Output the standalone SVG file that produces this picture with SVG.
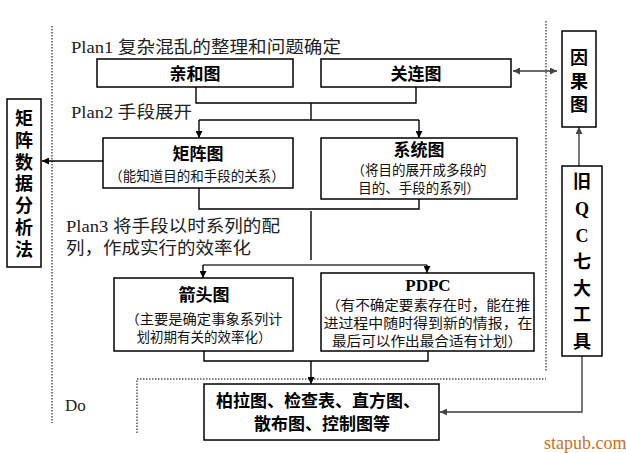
<svg xmlns="http://www.w3.org/2000/svg" width="626" height="453" viewBox="0 0 626 453">
<defs>
<style>
.box{fill:#fff;stroke:#000;stroke-width:1.5}
.ln{fill:none;stroke:#000;stroke-width:1.4}
.gl{fill:none;stroke:#6a6a6a;stroke-width:1.8}
.dot{fill:none;stroke:#000;stroke-width:1;stroke-dasharray:1.5 1.5}
.t{font-family:"Liberation Serif","Noto Sans CJK SC",serif;font-weight:700;font-size:17px;fill:#000;text-anchor:middle}
.s{font-family:"Noto Sans CJK SC",sans-serif;font-size:13.5px;fill:#111;text-anchor:middle}
.p{font-family:"Liberation Serif","Noto Sans CJK SC",serif;font-size:17px;fill:#222}
.v{font-family:"Liberation Serif","Noto Sans CJK SC",serif;font-weight:700;font-size:18px;fill:#000;text-anchor:middle}
</style>
<marker id="ah" viewBox="0 0 8 8" refX="8" refY="4" markerWidth="7" markerHeight="7" markerUnits="userSpaceOnUse" orient="auto-start-reverse">
<path d="M0,0 L8,4 L0,8 Z" fill="#000"/>
</marker>
<marker id="ahg" viewBox="0 0 8 8" refX="8" refY="4" markerWidth="7" markerHeight="7" markerUnits="userSpaceOnUse" orient="auto-start-reverse">
<path d="M0,0 L8,4 L0,8 Z" fill="#444"/>
</marker>
</defs>
<rect width="626" height="453" fill="#fff"/>

<g id="guides">
<path class="dot" d="M52,26 V423"/>
<path class="dot" d="M546,21 V372"/>
<path class="dot" d="M137,433 V379 H546"/>
</g>

<g id="labels">
<text class="p" x="71" y="53" textLength="270" lengthAdjust="spacingAndGlyphs">Plan1 复杂混乱的整理和问题确定</text>
<text class="p" x="71" y="118" textLength="121" lengthAdjust="spacingAndGlyphs">Plan2 手段展开</text>
<text class="p" x="66" y="232" textLength="214" lengthAdjust="spacingAndGlyphs">Plan3 将手段以时系列的配</text>
<text class="p" x="66" y="254" textLength="185" lengthAdjust="spacingAndGlyphs">列，作成实行的效率化</text>
<text class="p" x="65" y="411">Do</text>
<text x="544" y="449" font-family="Liberation Serif, serif" font-size="18" fill="#d07020">stapub.com</text>
</g>

<g id="connectors">
<path class="ln" d="M196,87 V103 H416 V87"/>
<path class="ln" d="M311,103 V120"/>
<path class="ln" d="M199,120 H419"/>
<path class="ln" d="M199,120 V138" marker-end="url(#ah)"/>
<path class="ln" d="M419,120 V138" marker-end="url(#ah)"/>
<path class="gl" d="M513,71 H557" marker-start="url(#ahg)" marker-end="url(#ahg)"/>
<path class="ln" d="M103,161 H42" marker-end="url(#ah)"/>
<path class="ln" d="M199,188 V209 H419 V199"/>
<path class="ln" d="M311,211 V260"/>
<path class="gl" d="M203,265 H427" style="stroke-width:2.2"/>
<path class="ln" d="M203,265 V278" marker-end="url(#ah)"/>
<path class="ln" d="M427,265 V273" marker-end="url(#ah)"/>
<path class="ln" d="M204,351 V361 H428 V351"/>
<path class="ln" d="M311,361 V384" marker-end="url(#ah)"/>
<path class="gl" d="M579,166 V127" marker-end="url(#ahg)"/>
<path class="gl" d="M582,356 V412 H440" marker-end="url(#ahg)"/>
</g>

<g id="n-qinhe">
<rect class="box" x="97" y="59" width="196" height="28"/>
<text class="t" x="195" y="80" font-size="18">亲和图</text>
</g>
<g id="n-guanlian">
<rect class="box" x="321" y="59" width="190" height="28"/>
<text class="t" x="416" y="80" font-size="18">关连图</text>
</g>
<g id="n-juzhen">
<rect class="box" x="103" y="138" width="190" height="50"/>
<text class="t" x="198" y="160">矩阵图</text>
<text class="s" x="197" y="181">（能知道目的和手段的关系）</text>
</g>
<g id="n-xitong">
<rect class="box" x="321" y="138" width="196" height="61"/>
<text class="t" x="419" y="156">系统图</text>
<text class="s" x="419" y="175">（将目的展开成多段的</text>
<text class="s" x="419" y="193">目的、手段的系列）</text>
</g>
<g id="n-jiantou">
<rect class="box" x="114" y="278" width="179" height="73"/>
<text class="t" x="204" y="301">箭头图</text>
<text class="s" x="204" y="324" textLength="157" lengthAdjust="spacingAndGlyphs">（主要是确定事象系列计</text>
<text class="s" x="204" y="342">划初期有关的效率化）</text>
</g>
<g id="n-pdpc">
<rect class="box" x="321" y="273" width="213" height="78"/>
<text class="t" x="428" y="291" font-size="18">PDPC</text>
<text class="s" x="428" y="310" textLength="204" lengthAdjust="spacingAndGlyphs">（有不确定要素存在时，能在推</text>
<text class="s" x="428" y="328" textLength="209" lengthAdjust="spacingAndGlyphs">进过程中随时得到新的情报，在</text>
<text class="s" x="427" y="346" textLength="190" lengthAdjust="spacingAndGlyphs">最后可以作出最合适有计划）</text>
</g>
<g id="n-do">
<rect class="box" x="204" y="384" width="235" height="56"/>
<text class="t" x="318" y="407" font-size="18">柏拉图、检查表、直方图、</text>
<text class="t" x="322" y="430" font-size="18">散布图、控制图等</text>
</g>
<g id="n-yinguo">
<rect class="box" x="562" y="31" width="34" height="96"/>
<text class="v" x="579" y="64">因</text>
<text class="v" x="579" y="88">果</text>
<text class="v" x="579" y="111">图</text>
</g>
<g id="n-juzhenshuju">
<rect class="box" x="7" y="99" width="34" height="168"/>
<text class="v" x="24" y="125">矩</text>
<text class="v" x="24" y="147">阵</text>
<text class="v" x="24" y="169">数</text>
<text class="v" x="24" y="190">据</text>
<text class="v" x="24" y="212">分</text>
<text class="v" x="24" y="234">析</text>
<text class="v" x="24" y="256">法</text>
</g>
<g id="n-jiuqc">
<rect class="box" x="562" y="166" width="40" height="190"/>
<text class="v" x="582" y="188">旧</text>
<text class="v" x="582" y="215" font-size="20">Q</text>
<text class="v" x="582" y="242" font-size="20">C</text>
<text class="v" x="582" y="268">七</text>
<text class="v" x="582" y="295">大</text>
<text class="v" x="582" y="321">工</text>
<text class="v" x="582" y="348">具</text>
</g>
</svg>
